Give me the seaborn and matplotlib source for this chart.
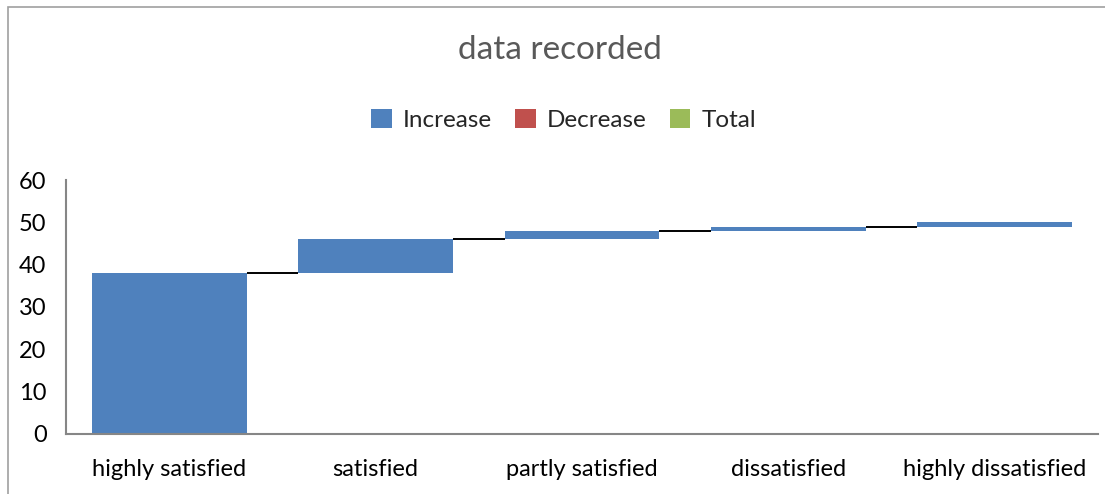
import matplotlib
matplotlib.use("Agg")
import matplotlib.pyplot as plt
from matplotlib.patches import Patch, Rectangle
import numpy as np
import pandas as pd
import seaborn as sns

categories = ["highly satisfied", "satisfied", "partly satisfied", "dissatisfied", "highly dissatisfied"]
increments = [38, 8, 2, 1, 1]
legend_labels = ["Increase", "Decrease", "Total"]
y_ticks = [0, 10, 20, 30, 40, 50, 60]

BLUE = "#4F81BD"
RED = "#C0504D"
GREEN = "#9BBB59"
AXIS_GRAY = "#868686"

sns.set_theme(style="white")
plt.rcParams["font.family"] = ["Lato", "DejaVu Sans"]

ends = np.cumsum(increments)
starts = ends - np.array(increments)
df = pd.DataFrame({"category": categories, "end": ends, "start": starts, "delta": increments})

fig = plt.figure(figsize=(11.05, 4.94), dpi=100)
ax = fig.add_axes([0.0597, 0.1215, 0.9340, 0.5141])

width = 0.75
sns.barplot(data=df, x="category", y="delta", order=categories, color=BLUE,
            saturation=1, width=width, bottom=df["start"].to_numpy(), ax=ax,
            edgecolor="none", linewidth=0)

# connector lines between consecutive steps
for i in range(len(categories) - 1):
    ax.plot([i + width / 2, i + 1 - width / 2], [ends[i], ends[i]],
            color="black", lw=1.4, solid_capstyle="butt", zorder=3)

ax.set_xlim(-0.5, len(categories) - 0.5)
ax.set_ylim(0, 60)
ax.set_yticks(y_ticks)
ax.set_xlabel("")
ax.set_ylabel("")
ax.tick_params(axis="both", length=0, labelsize=17, colors="black")
ax.tick_params(axis="y", pad=14)
ax.tick_params(axis="x", pad=18)
for s in ["top", "right"]:
    ax.spines[s].set_visible(False)
for s in ["left", "bottom"]:
    ax.spines[s].set_color(AXIS_GRAY)
    ax.spines[s].set_linewidth(1.5)

fig.text(0.507, 0.898, "data recorded", ha="center", va="center", fontsize=24, color="#595959")

handles = [Patch(facecolor=c, edgecolor="none") for c in (BLUE, RED, GREEN)]
fig.legend(handles, legend_labels, loc="center", bbox_to_anchor=(0.51, 0.757), ncol=3,
           frameon=False, fontsize=17.5, handlelength=0.85, handleheight=0.8,
           handletextpad=0.45, columnspacing=0.95)

# outer chart frame
fig.patches.append(Rectangle((8 / 1105, -0.05), 1.2, 1 - 7 / 494 + 0.05, transform=fig.transFigure,
                             fill=False, edgecolor="#A0A0A0", lw=1.2, zorder=0))

fig.savefig("out.png", dpi=100, facecolor="white")
